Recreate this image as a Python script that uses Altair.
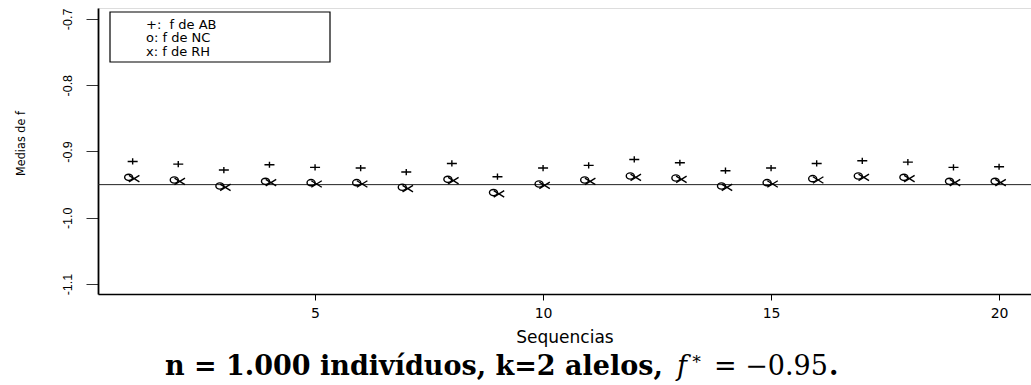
import altair as alt
import pandas as pd

# ---- data ----
seq = list(range(1, 21))
f_ab = [-0.915, -0.919, -0.928, -0.920, -0.924, -0.925, -0.931, -0.918, -0.938, -0.925,
        -0.921, -0.912, -0.917, -0.929, -0.925, -0.918, -0.914, -0.916, -0.924, -0.923]
f_nc = [-0.939, -0.943, -0.952, -0.945, -0.947, -0.947, -0.954, -0.942, -0.962, -0.949,
        -0.943, -0.937, -0.940, -0.952, -0.947, -0.941, -0.937, -0.939, -0.945, -0.945]
f_rh = [-0.941, -0.945, -0.954, -0.947, -0.949, -0.949, -0.956, -0.944, -0.964, -0.951,
        -0.945, -0.939, -0.942, -0.954, -0.949, -0.943, -0.939, -0.941, -0.947, -0.947]
f_star = [-0.95]
x_ticks = [5, 10, 15, 20]
y_ticks = [-1.1, -1.0, -0.9, -0.8, -0.7]
legend_lines = ["+:\u00a0\u00a0f de AB", "o:\u00a0f de NC", "x:\u00a0f de RH"]
x_title = "Sequencias"
y_title = "Medias de f"
caption_bold = "n = 1.000 indivíduos, k=2 alelos,"

df = pd.DataFrame({"seq": seq, "ab": f_ab, "nc": f_nc, "rh": f_rh})
ref = pd.DataFrame({"f": f_star})
dummy = pd.DataFrame({"a": [0]})

W, H = 933, 286

xs = alt.Scale(domain=[0.24, 20.7], nice=False, zero=False)
ys = alt.Scale(domain=[-1.115, -0.6835], nice=False, zero=False)

x_axis = alt.Axis(values=x_ticks, title=x_title, grid=False, domainColor="black",
                  domainWidth=1.5, tickColor="black", tickSize=6, labelFont="DejaVu Sans",
                  labelFontSize=14, labelColor="black", labelPadding=6,
                  titleFont="DejaVu Sans", titleFontSize=17, titleFontWeight="normal",
                  titleColor="black", titleBaseline="middle", titleY=43)
y_axis = alt.Axis(values=y_ticks, title=y_title, grid=False, domainColor="black",
                  labelExpr="datum.value < 0 ? '-' + format(-datum.value, '.1f') : format(datum.value, '.1f')",
                  domainWidth=1.8, tickColor="#333333", tickSize=12, labelAngle=270,
                  labelAlign="center", labelBaseline="middle", labelPadding=19,
                  labelFont="Liberation Sans", labelFontSize=12.5, labelColor="black",
                  titleFont="'Liberation Sans Narrow', 'DejaVu Sans Condensed', 'Liberation Sans', sans-serif",
                  titleFontSize=12.5, titleFontWeight="normal",
                  titleColor="black", titleAngle=270, titleAlign="center",
                  titleBaseline="middle", titleX=-78, titleY=135)

base = alt.Chart(df)

rule = alt.Chart(ref).mark_rule(color="#222222", strokeWidth=1).encode(
    y=alt.Y("f:Q", scale=ys, axis=y_axis))

plus_path = "M-1,0L1,0M0,-0.62L0,0.62"
circ_path = "M-1,0A1,0.78,0,1,1,1,0A1,0.78,0,1,1,-1,0Z"
cross_path = "M-1,-0.62L1,0.62M-1,0.62L1,-0.62"

p_ab = base.mark_point(shape=plus_path, size=100, filled=False, stroke="black",
                       strokeWidth=1.4, opacity=1).encode(
    x=alt.X("seq:Q", scale=xs, axis=x_axis), y=alt.Y("ab:Q", scale=ys))
p_nc = base.mark_point(shape=circ_path, size=64, filled=False, stroke="black",
                       strokeWidth=1.4, opacity=1, xOffset=-4).encode(
    x=alt.X("seq:Q", scale=xs), y=alt.Y("nc:Q", scale=ys))
p_rh = base.mark_point(shape=cross_path, size=110, filled=False, stroke="black",
                       strokeWidth=1.4, opacity=1, xOffset=1.5).encode(
    x=alt.X("seq:Q", scale=xs), y=alt.Y("rh:Q", scale=ys))

legend_box = alt.Chart(dummy).mark_rect(fill="white", stroke="black", strokeWidth=1.2).encode(
    x=alt.value(12), x2=alt.value(232), y=alt.value(4), y2=alt.value(54))

legend_layers = []
for i, line in enumerate(legend_lines):
    legend_layers.append(
        alt.Chart(dummy).mark_text(align="left", baseline="middle", font="DejaVu Sans",
                                   fontSize=13, color="black").encode(
            x=alt.value(48), y=alt.value(17 + 13.3 * i), text=alt.value(line)))

cap_y = 367
cap_size = 27
cap1 = alt.Chart(dummy).mark_text(align="left", baseline="alphabetic", font="DejaVu Serif",
                                  fontWeight="bold", fontSize=cap_size, color="black").encode(
    x=alt.value(67), y=alt.value(cap_y), text=alt.value(caption_bold))
cap_f = alt.Chart(dummy).mark_text(align="left", baseline="alphabetic", font="DejaVu Serif",
                                   fontStyle="italic", fontSize=cap_size, color="black").encode(
    x=alt.value(579), y=alt.value(cap_y), text=alt.value("f"))
cap_star = alt.Chart(dummy).mark_text(align="left", baseline="alphabetic", font="DejaVu Serif",
                                      fontSize=17, color="black").encode(
    x=alt.value(593), y=alt.value(cap_y - 11), text=alt.value("∗"))
cap_eq = alt.Chart(dummy).mark_text(align="left", baseline="alphabetic", font="DejaVu Serif",
                                    fontSize=cap_size, color="black").encode(
    x=alt.value(616), y=alt.value(cap_y), text=alt.value("= −0.95"))
cap_dot = alt.Chart(dummy).mark_text(align="left", baseline="alphabetic", font="DejaVu Serif",
                                     fontWeight="bold", fontSize=cap_size, color="black").encode(
    x=alt.value(731), y=alt.value(cap_y), text=alt.value("."))

chart = alt.layer(
    rule, p_ab, p_nc, p_rh, legend_box, *legend_layers, cap1, cap_f, cap_star, cap_eq, cap_dot
).properties(
    width=W, height=H,
    autosize=alt.AutoSizeParams(type="none"),
    padding={"left": 98, "top": 8, "right": 0, "bottom": 91},
).configure_view(stroke=None).configure(background="white")

chart.save("out.html", embed_options={"renderer": "svg", "actions": False})
